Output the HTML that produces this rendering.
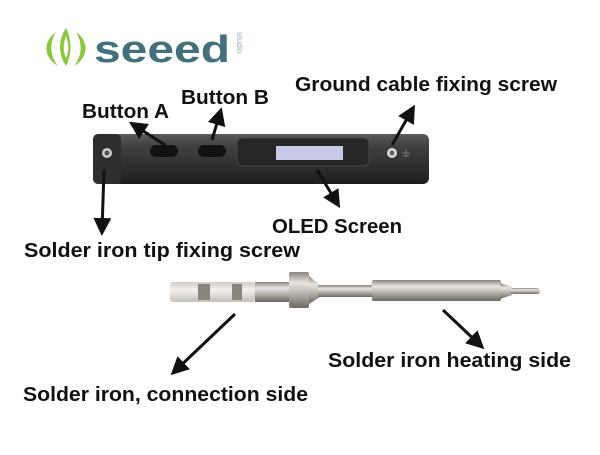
<!DOCTYPE html>
<html><head><meta charset="utf-8"><style>
html,body{margin:0;padding:0;background:#fff;}
svg{display:block;}
text{font-family:"Liberation Sans",sans-serif;font-weight:bold;fill:#111;}
</style></head><body>
<svg width="600" height="455" viewBox="0 0 600 455" xmlns="http://www.w3.org/2000/svg">
<defs>
<marker id="ah" markerWidth="6" markerHeight="6" refX="4" refY="3" orient="auto" markerUnits="strokeWidth">
<path d="M0,0 L6,3 L0,6 z" fill="#111"/></marker>
<linearGradient id="body" x1="0" y1="0" x2="0" y2="1">
<stop offset="0" stop-color="#5a5a5a"/><stop offset="0.25" stop-color="#404040"/><stop offset="0.7" stop-color="#2c2c2c"/><stop offset="1" stop-color="#1e1e1e"/></linearGradient>
<linearGradient id="metal" x1="0" y1="0" x2="0" y2="1">
<stop offset="0" stop-color="#8a8580"/><stop offset="0.3" stop-color="#e8e4e0"/><stop offset="0.6" stop-color="#b8b2ac"/><stop offset="1" stop-color="#6e6862"/></linearGradient>
<linearGradient id="cer" x1="0" y1="0" x2="0" y2="1">
<stop offset="0" stop-color="#cfccc8"/><stop offset="0.4" stop-color="#f2f0ee"/><stop offset="1" stop-color="#c4c0bb"/></linearGradient>
</defs>
<!-- logo -->
<g fill="#8cc63f">
<path d="M56,32 C42,42 44,58 58,66 C50,56 49,44 56,32 z"/>
<path d="M76,32 C90,42 88,58 74,66 C82,56 83,44 76,32 z"/>
<path d="M66,28 C58,40 58,54 66,66 C72,54 72,40 66,28 z M66,36 C63,44 63,52 66,58 C69,52 69,44 66,36 z" fill-rule="evenodd"/>
</g>
<text x="94" y="62" style="font-size:38px;fill:#44707e;font-family:'Liberation Sans',sans-serif;font-weight:bold" textLength="136" lengthAdjust="spacingAndGlyphs">seeed</text>
<text x="0" y="0" transform="translate(237,32) rotate(90)" style="font-size:8px;fill:#9ab;font-weight:normal">studio</text>
<!-- handle -->
<rect x="93" y="134" width="336" height="50" rx="6" fill="url(#body)"/>
<rect x="93" y="134" width="28" height="50" rx="5" fill="#2e2e2e"/>
<circle cx="107" cy="153" r="5" fill="#ccc"/><circle cx="107" cy="153" r="2.5" fill="#555"/>
<rect x="150" y="145" width="28" height="12" rx="6" fill="#111"/>
<rect x="198" y="145" width="28" height="12" rx="6" fill="#111"/>
<rect x="237" y="138" width="132" height="28" rx="5" fill="#262626" stroke="#4a4a4a"/>
<rect x="276" y="146" width="67" height="14" fill="#c9c8e6"/>
<circle cx="392" cy="153" r="5" fill="#ddd"/><circle cx="392" cy="153" r="2.5" fill="#666"/>
<path d="M402,153 h8 M406,149 v8 M403,156 h6" stroke="#777" stroke-width="1"/>
<!-- tip -->
<rect x="170" y="282" width="85" height="20" rx="3" fill="url(#cer)"/>
<rect x="198" y="284" width="12" height="16" fill="#8a847e"/>
<rect x="232" y="284" width="10" height="16" fill="#8a847e"/>
<rect x="255" y="282" width="37" height="20" fill="url(#metal)"/>
<rect x="289" y="272" width="20" height="36" rx="2" fill="url(#metal)"/>
<path d="M309,276 L320,285 L320,297 L309,304 z" fill="url(#metal)"/>
<rect x="318" y="285" width="56" height="12" fill="url(#metal)"/>
<rect x="372" y="280" width="129" height="21" rx="2" fill="url(#metal)"/>
<path d="M500,283 L512,287 L512,295 L500,299 z" fill="url(#metal)"/>
<rect x="510" y="288" width="30" height="6" rx="3" fill="url(#metal)"/>
<!-- arrows -->
<g stroke="#111" stroke-width="3" fill="none" marker-end="url(#ah)">
<line x1="165" y1="145" x2="134" y2="125"/>
<line x1="212" y1="140" x2="220" y2="113"/>
<line x1="392" y1="145" x2="412" y2="110"/>
<line x1="317" y1="170" x2="337" y2="203"/>
<line x1="104" y1="170" x2="102" y2="230"/>
<line x1="235" y1="314" x2="175" y2="371"/>
<line x1="443" y1="310" x2="480" y2="345"/>
</g>
<!-- labels -->
<text x="82" y="118" style="font-size:20px" textLength="87" lengthAdjust="spacingAndGlyphs">Button A</text>
<text x="181" y="104" style="font-size:20px" textLength="88" lengthAdjust="spacingAndGlyphs">Button B</text>
<text x="295" y="91" style="font-size:20px" textLength="262" lengthAdjust="spacingAndGlyphs">Ground cable fixing screw</text>
<text x="272" y="233" style="font-size:20px" textLength="130" lengthAdjust="spacingAndGlyphs">OLED Screen</text>
<text x="24" y="257" style="font-size:20px" textLength="276" lengthAdjust="spacingAndGlyphs">Solder iron tip fixing screw</text>
<text x="328" y="367" style="font-size:20px" textLength="243" lengthAdjust="spacingAndGlyphs">Solder iron heating side</text>
<text x="23" y="401" style="font-size:20px" textLength="285" lengthAdjust="spacingAndGlyphs">Solder iron, connection side</text>
</svg>
</body></html>
